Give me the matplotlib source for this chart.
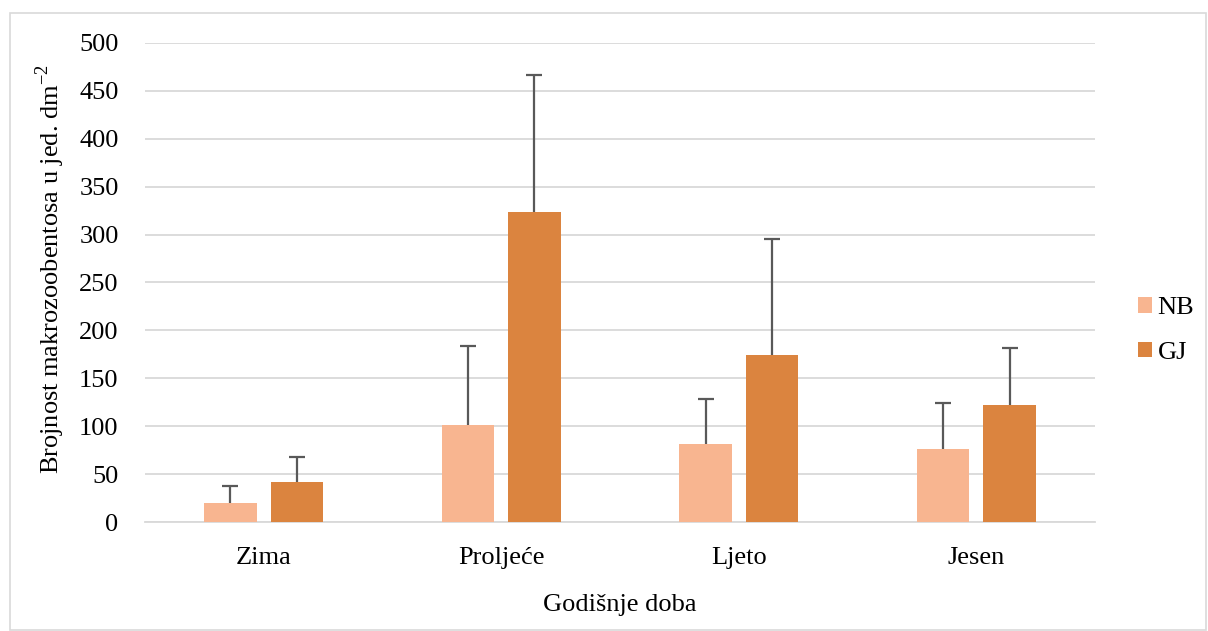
import matplotlib
matplotlib.use("Agg")
import matplotlib.pyplot as plt
import numpy as np
from matplotlib.patches import Rectangle

categories = ["Zima", "Proljeće", "Ljeto", "Jesen"]
nb_values = [20, 101, 81, 76]
nb_err = [18, 83, 47, 48]
gj_values = [42, 324, 174, 122]
gj_err = [26, 143, 121, 60]
series_names = ["NB", "GJ"]
yticks = [0, 50, 100, 150, 200, 250, 300, 350, 400, 450, 500]

plt.rcParams['font.family'] = ['Liberation Serif', 'DejaVu Serif']
plt.rcParams['mathtext.fontset'] = 'custom'
plt.rcParams['mathtext.rm'] = 'Liberation Serif'

FS = 19

fig = plt.figure(figsize=(12.08, 6.31), dpi=100)
ax = fig.add_axes([0.12, 0.1727, 0.7865, 0.7593])

x = np.arange(len(categories))
w = 0.22
off = 0.14
c_nb = '#F8B590'
c_gj = '#DB843F'
ekw = dict(ecolor='#595959', elinewidth=1.6, capsize=6, capthick=1.6)

b1 = ax.bar(x - off, nb_values, w, color=c_nb, label=series_names[0], zorder=3,
            yerr=[np.zeros(len(nb_err)), nb_err], error_kw=ekw)
b2 = ax.bar(x + off, gj_values, w, color=c_gj, label=series_names[1], zorder=3,
            yerr=[np.zeros(len(gj_err)), gj_err], error_kw=ekw)
for b in (b1, b2):
    caps = b.errorbar.lines[1]
    if len(caps) >= 2:
        caps[0].set_visible(False)

ax.set_xlim(-0.5, len(categories) - 0.5)
ax.set_ylim(0, 500)
ax.set_yticks(yticks)
ax.set_xticks(x)
ax.set_xticklabels(categories, fontsize=FS)
ax.tick_params(axis='y', labelsize=FS, length=0, pad=19)
ax.tick_params(axis='x', length=0, pad=18)
ax.yaxis.grid(True, color='#D9D9D9', linewidth=1.3, zorder=0)
ax.set_axisbelow(True)
for s in ['top', 'right', 'left']:
    ax.spines[s].set_visible(False)
ax.spines['bottom'].set_color('#D9D9D9')
ax.spines['bottom'].set_linewidth(1.3)

ax.set_xlabel("Godišnje doba", fontsize=FS, labelpad=18)
ax.set_ylabel("Brojnost makrozoobentosa u jed. dm$^{-2}$", fontsize=FS, labelpad=9)
ax.yaxis.label.set_y(0.528)

leg = ax.legend(loc='center left', bbox_to_anchor=(1.02, 0.40), frameon=False,
                fontsize=FS, handlelength=0.55, handleheight=0.55, handletextpad=0.2,
                labelspacing=0.85)

fig.patches.append(Rectangle((0.008, 0.002), 0.99, 0.978, transform=fig.transFigure,
                             fill=False, edgecolor='#D9D9D9', linewidth=1.2))

fig.savefig("out.png", dpi=100)
